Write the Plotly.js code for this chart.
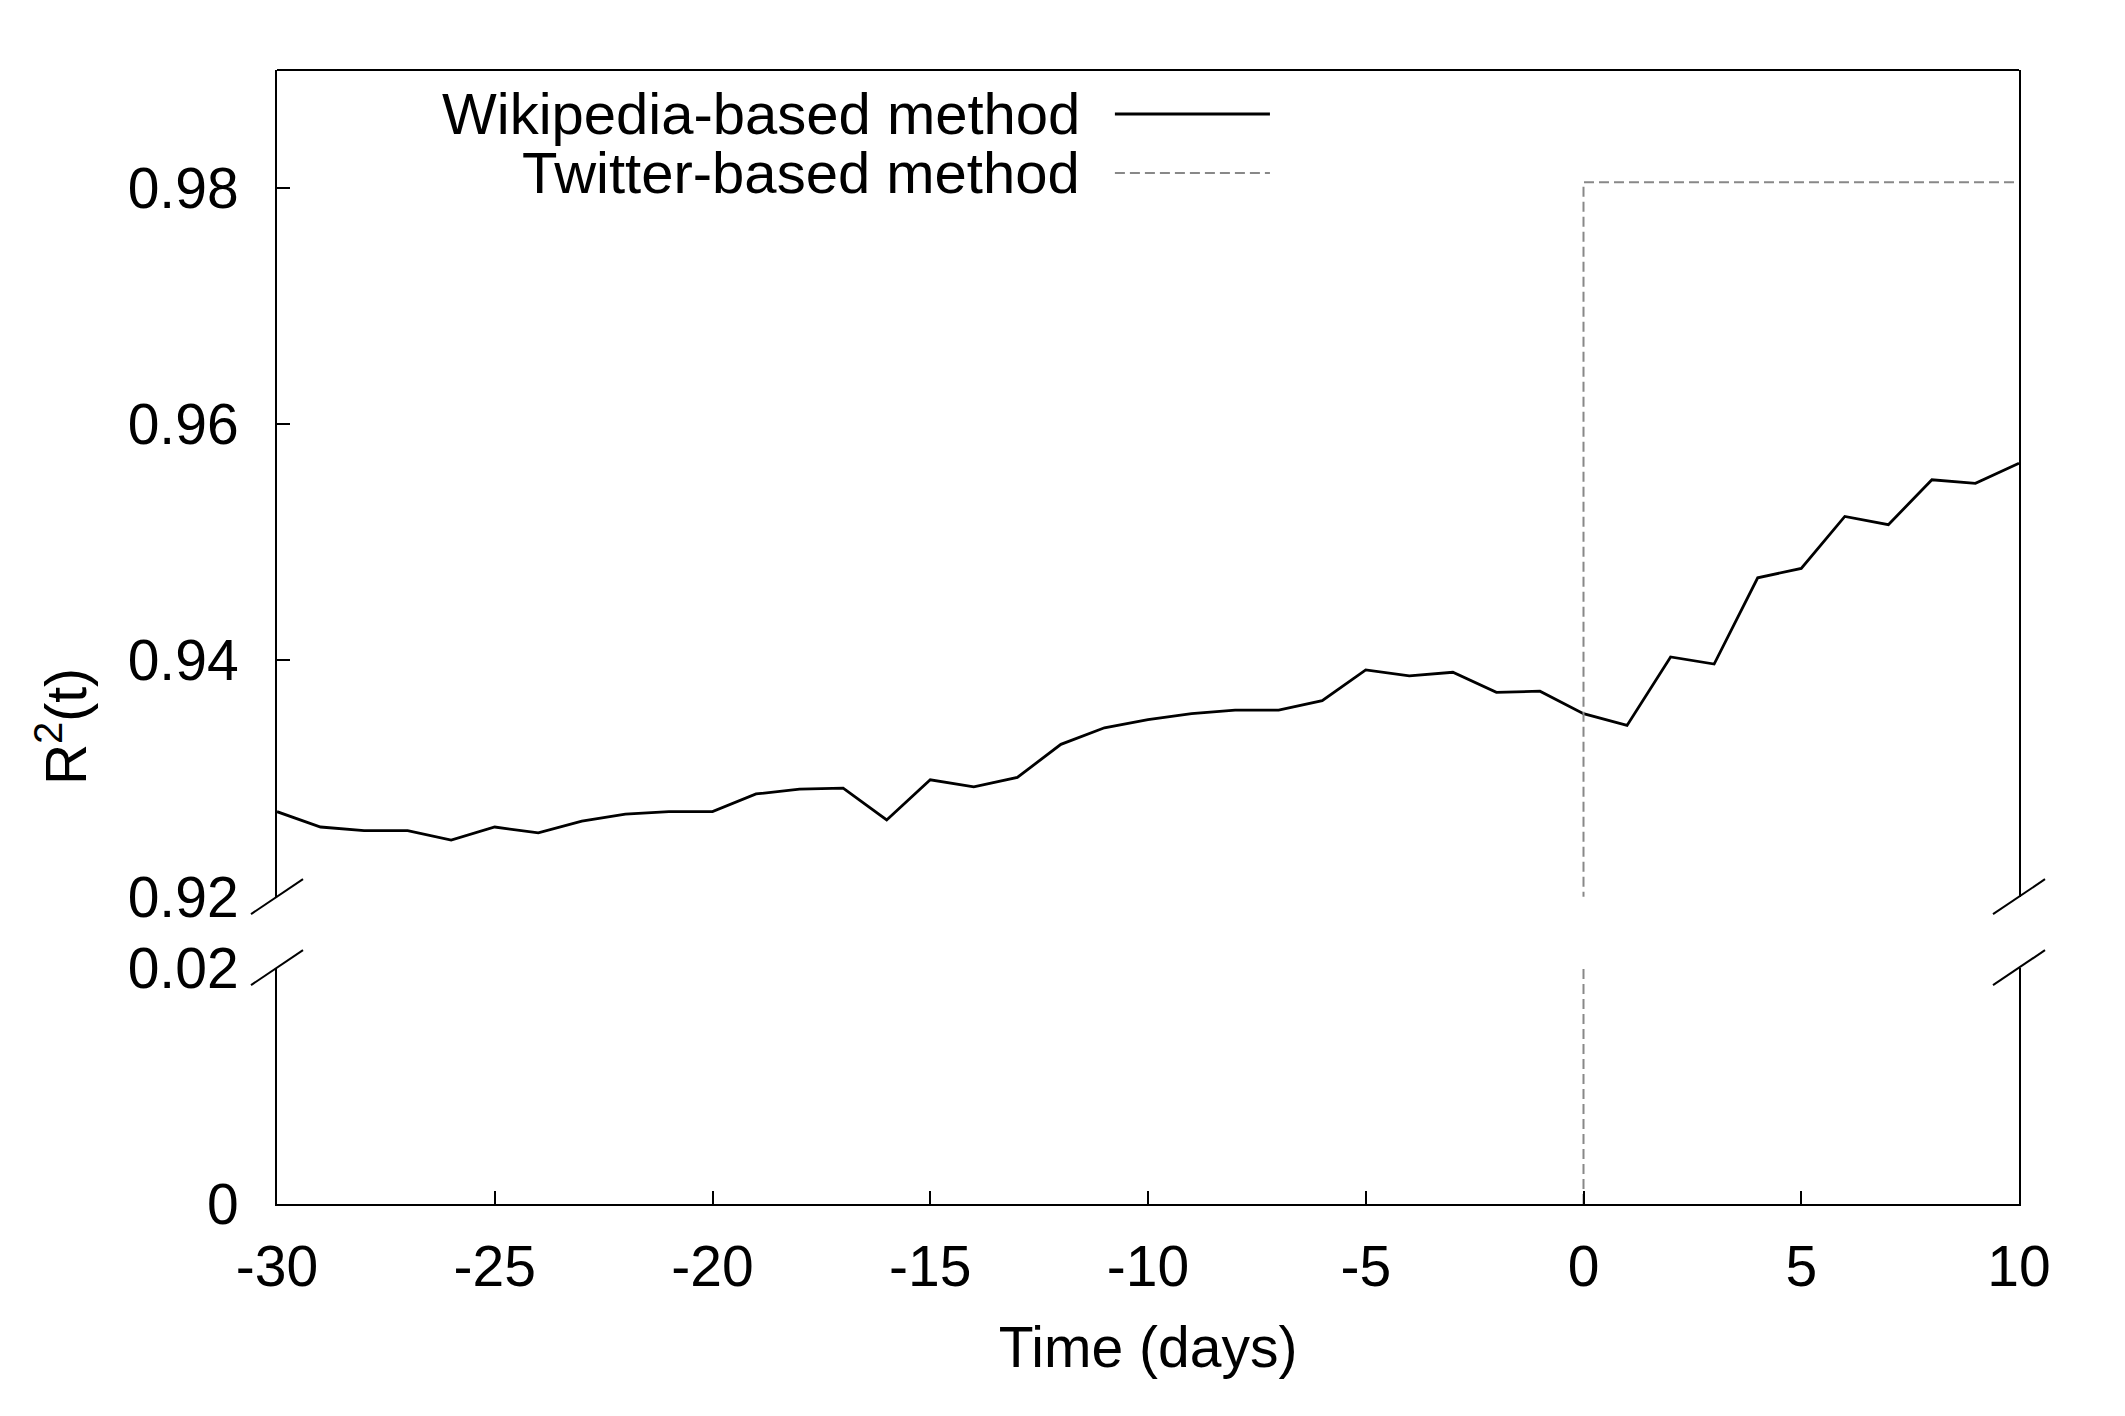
<!DOCTYPE html>
<html><head><meta charset="utf-8">
<script src="https://cdn.plot.ly/plotly-3.0.1.min.js"></script>
<style>html,body{margin:0;padding:0;background:#fff}#chart{width:2125px;height:1416px}</style>
</head><body><div id="chart"></div>
<script>
// ---- data ----
const days = [-30,-29,-28,-27,-26,-25,-24,-23,-22,-21,-20,-19,-18,-17,-16,-15,-14,-13,-12,-11,-10,-9,-8,-7,-6,-5,-4,-3,-2,-1,0,1,2,3,4,5,6,7,8,9,10];
const wikipediaR2 = [0.9272,0.9259,0.9256,0.9256,0.9248,0.9259,0.9254,0.9264,0.9270,0.9272,0.9272,0.9287,0.9291,0.9292,0.9265,0.9299,0.9293,0.9301,0.9329,0.9343,0.9350,0.9355,0.9358,0.9358,0.9366,0.9392,0.9387,0.9390,0.9373,0.9374,0.9355,0.9345,0.9403,0.9397,0.9470,0.9478,0.9522,0.9515,0.9553,0.9550,0.9567];
const twitterDays = [0, 0, 10];
const twitterR2 = [0, 0.9805, 0.9805];
const seriesNames = ["Wikipedia-based method", "Twitter-based method"];
const xTickVals = [-30,-25,-20,-15,-10,-5,0,5,10];
const xTickText = ["-30","-25","-20","-15","-10","-5","0","5","10"];
const upperTickVals = [0.92,0.94,0.96,0.98];
const upperTickText = ["0.92","0.94","0.96","0.98"];
const lowerTickVals = [0, 0.02];
const lowerTickText = ["0","0.02"];
const xRange = [-30, 10];
const upperRange = [0.92, 0.99];
const lowerRange = [0, 0.02];

// ---- style ----
const FONT = "Liberation Sans, Arial, Helvetica, sans-serif";
const FS = 57;
const upperDomain = [0.271, 1];
const lowerDomain = [0, 0.2084];
const wikiLine = {color: "#000000", width: 2.8};
const twLine = {color: "#888888", width: 2, dash: "10px,5px"};

const traces = [
  {x: days, y: wikipediaR2, xaxis: "x", yaxis: "y2", mode: "lines", line: wikiLine, name: seriesNames[0], showlegend: false},
  {x: twitterDays, y: twitterR2, xaxis: "x", yaxis: "y2", mode: "lines", line: twLine, name: seriesNames[1], showlegend: false},
  {x: twitterDays, y: twitterR2, xaxis: "x", yaxis: "y", mode: "lines", line: twLine, name: seriesNames[1], showlegend: false}
];

const yCommon = {
  showline: true, linecolor: "#000", linewidth: 2, mirror: true,
  ticks: "inside", ticklen: 13, tickwidth: 2, tickcolor: "#000",
  showgrid: false, zeroline: false, tickmode: "array",
  ticklabelstandoff: 25,
  tickfont: {family: FONT, size: FS, color: "#000"}
};

// break marks (pixel-size, anchored at panel edges)
const breakShapes = [];
[0, 1].forEach(function(xa){
  [upperDomain[0], lowerDomain[1]].forEach(function(ya){
    breakShapes.push({type: "line", xref: "paper", yref: "paper",
      xsizemode: "pixel", xanchor: xa, x0: -26, x1: 26,
      ysizemode: "pixel", yanchor: ya, y0: -17.5, y1: 17.5,
      line: {color: "#000", width: 2}});
  });
});

const legendX0 = 0.481, legendX1 = 0.570, legendTextX = 0.462;
const legendRows = [0.9612, 0.9092];

const shapes = breakShapes.concat([
  {type: "line", xref: "paper", yref: "paper", x0: 0, x1: 1, y0: 1, y1: 1, line: {color: "#000", width: 2}},
  {type: "line", xref: "paper", yref: "paper", x0: legendX0, x1: legendX1, y0: legendRows[0], y1: legendRows[0], line: wikiLine},
  {type: "line", xref: "paper", yref: "paper", x0: legendX0, x1: legendX1, y0: legendRows[1], y1: legendRows[1], line: twLine}
]);

const annotations = [
  {text: seriesNames[0], xref: "paper", yref: "paper", x: legendTextX, y: legendRows[0], xanchor: "right", yanchor: "middle", showarrow: false, font: {family: FONT, size: 58, color: "#000"}},
  {text: seriesNames[1], xref: "paper", yref: "paper", x: legendTextX, y: legendRows[1], xanchor: "right", yanchor: "middle", showarrow: false, font: {family: FONT, size: 58, color: "#000"}},
  {text: "R<sup>2</sup>(t)", xref: "paper", yref: "paper", x: -0.1234, y: 0.4206, xanchor: "center", yanchor: "middle", textangle: -90, showarrow: false, font: {family: FONT, size: FS, color: "#000"}}
];

const layout = {
  width: 2125, height: 1416,
  margin: {l: 277, r: 106, t: 70, b: 212, pad: 0},
  paper_bgcolor: "#fff", plot_bgcolor: "#fff",
  font: {family: FONT, size: FS, color: "#000"},
  showlegend: false,
  xaxis: {
    range: xRange, anchor: "y", domain: [0, 1],
    showline: true, linecolor: "#000", linewidth: 2, mirror: false,
    ticks: "inside", ticklen: 13, tickwidth: 2, tickcolor: "#000",
    tickmode: "array", tickvals: xTickVals, ticktext: xTickText,
    ticklabelstandoff: 12,
    showgrid: false, zeroline: false,
    tickfont: {family: FONT, size: FS, color: "#000"},
    title: {text: "Time (days)", font: {family: FONT, size: FS, color: "#000"}, standoff: 30}
  },
  yaxis: Object.assign({}, yCommon, {domain: lowerDomain, range: lowerRange, anchor: "x", tickvals: lowerTickVals, ticktext: lowerTickText}),
  yaxis2: Object.assign({}, yCommon, {domain: upperDomain, range: upperRange, anchor: "x", tickvals: upperTickVals, ticktext: upperTickText}),
  shapes: shapes,
  annotations: annotations
};

Plotly.newPlot("chart", traces, layout, {staticPlot: true, displayModeBar: false});
</script>
</body></html>
